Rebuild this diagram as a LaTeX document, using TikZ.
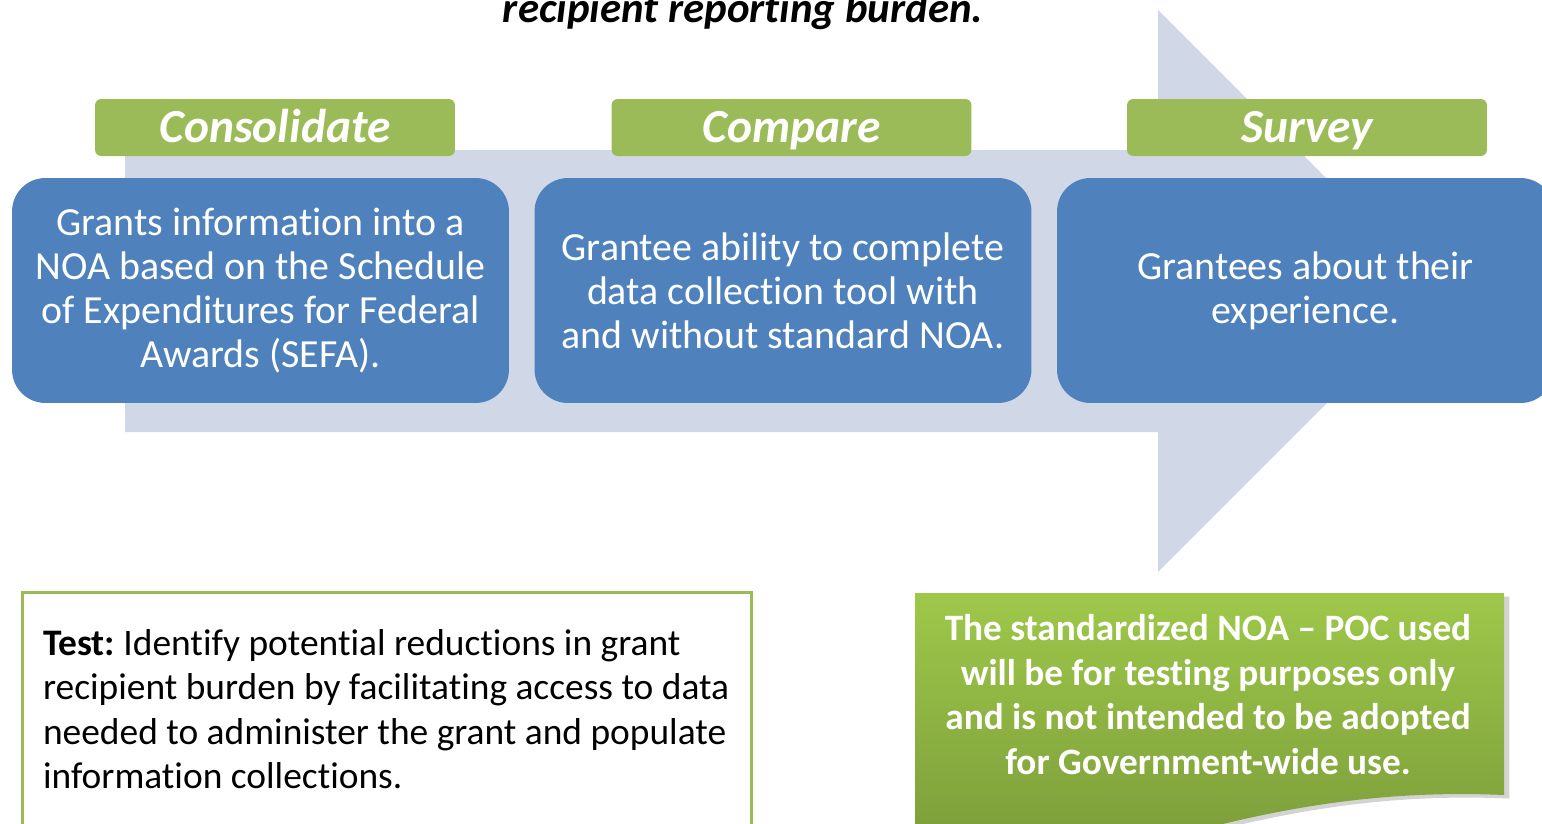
\documentclass[tikz,border=0pt]{standalone}
\usepackage{fontspec}
\setmainfont{Carlito}[Ligatures=NoCommon]
\usetikzlibrary{shadows}
\definecolor{arrowgray}{RGB}{208,216,232}
\definecolor{stepblue}{RGB}{79,129,189}
\definecolor{stepgreen}{RGB}{155,187,89}
\definecolor{notetop}{RGB}{158,200,74}
\definecolor{notebot}{RGB}{121,153,57}
\frenchspacing

\begin{document}
\begin{tikzpicture}[x=0.02cm,y=-0.02cm,
  header/.style={fill=stepgreen,rounded corners=3.5pt,minimum width=7.2cm,minimum height=1.14cm,inner sep=0pt,text height=20pt,text depth=2.4pt,text=white,font=\fontsize{27}{32}\selectfont\bfseries\itshape},
  stepbox/.style={fill=stepblue,rounded corners=19pt,minimum width=9.94cm,minimum height=4.5cm,inner sep=0pt,text=white,align=center,font=\fontsize{22.7}{25}\selectfont}]
\useasboundingbox (0,0) rectangle (1542,823);
\fill [arrowgray] (125,150) -- (1158,150) -- (1158,10) -- (1439,291) -- (1158,572) -- (1158,432) -- (125,432) -- cycle;
\node (title) [anchor=base,font=\fontsize{24.4}{29}\selectfont\bfseries\itshape] at (743,22) {recipient reporting burden.};
\node [header] (consolidate) at (275,127.5) {Consolidate};
\node [header] (compare) at (791.5,127.5) {Compare};
\node [header] (survey) at (1307,127.5) {Survey};
\node [stepbox] (grants) at (260.5,290.5) {Grants information into a\\NOA based on the Schedule\\of Expenditures for Federal\\Awards (SEFA).};
\node [stepbox] (ability) at (783,290.5) {Grantee ability to complete\\data collection tool with\\and without standard NOA.};
\node [stepbox] (grantees) at (1305.5,290.5) {Grantees about their\\experience.};
\node [draw=stepgreen,line width=1.7pt,fill=white,minimum width=14.6cm,minimum height=4.68cm,text width=13.76cm,inner sep=0pt,align=flush left,font=\fontsize{21.3}{25.3}\selectfont] (test) at (387,709) {\textbf{Test:} Identify potential reductions in grant\\recipient burden by facilitating access to data\\needed to administer the grant and populate\\information collections.};
\path [top color=notetop,bottom color=notebot,drop shadow={opacity=0.35,shadow xshift=3pt,shadow yshift=-2pt}] (915,593) -- (1504,593) -- (1504,795) .. controls (1390,790) and (1290,805) .. (1180,835) .. controls (1080,862) and (1000,870) .. (915,860) -- cycle;
\node [align=center,text=white,font=\fontsize{21.2}{25.5}\selectfont\bfseries] (note) at (1208,694.5) {The standardized NOA -- POC used\\will be for testing purposes only\\and is not intended to be adopted\\for Government-wide use.};
\end{tikzpicture}
\end{document}
